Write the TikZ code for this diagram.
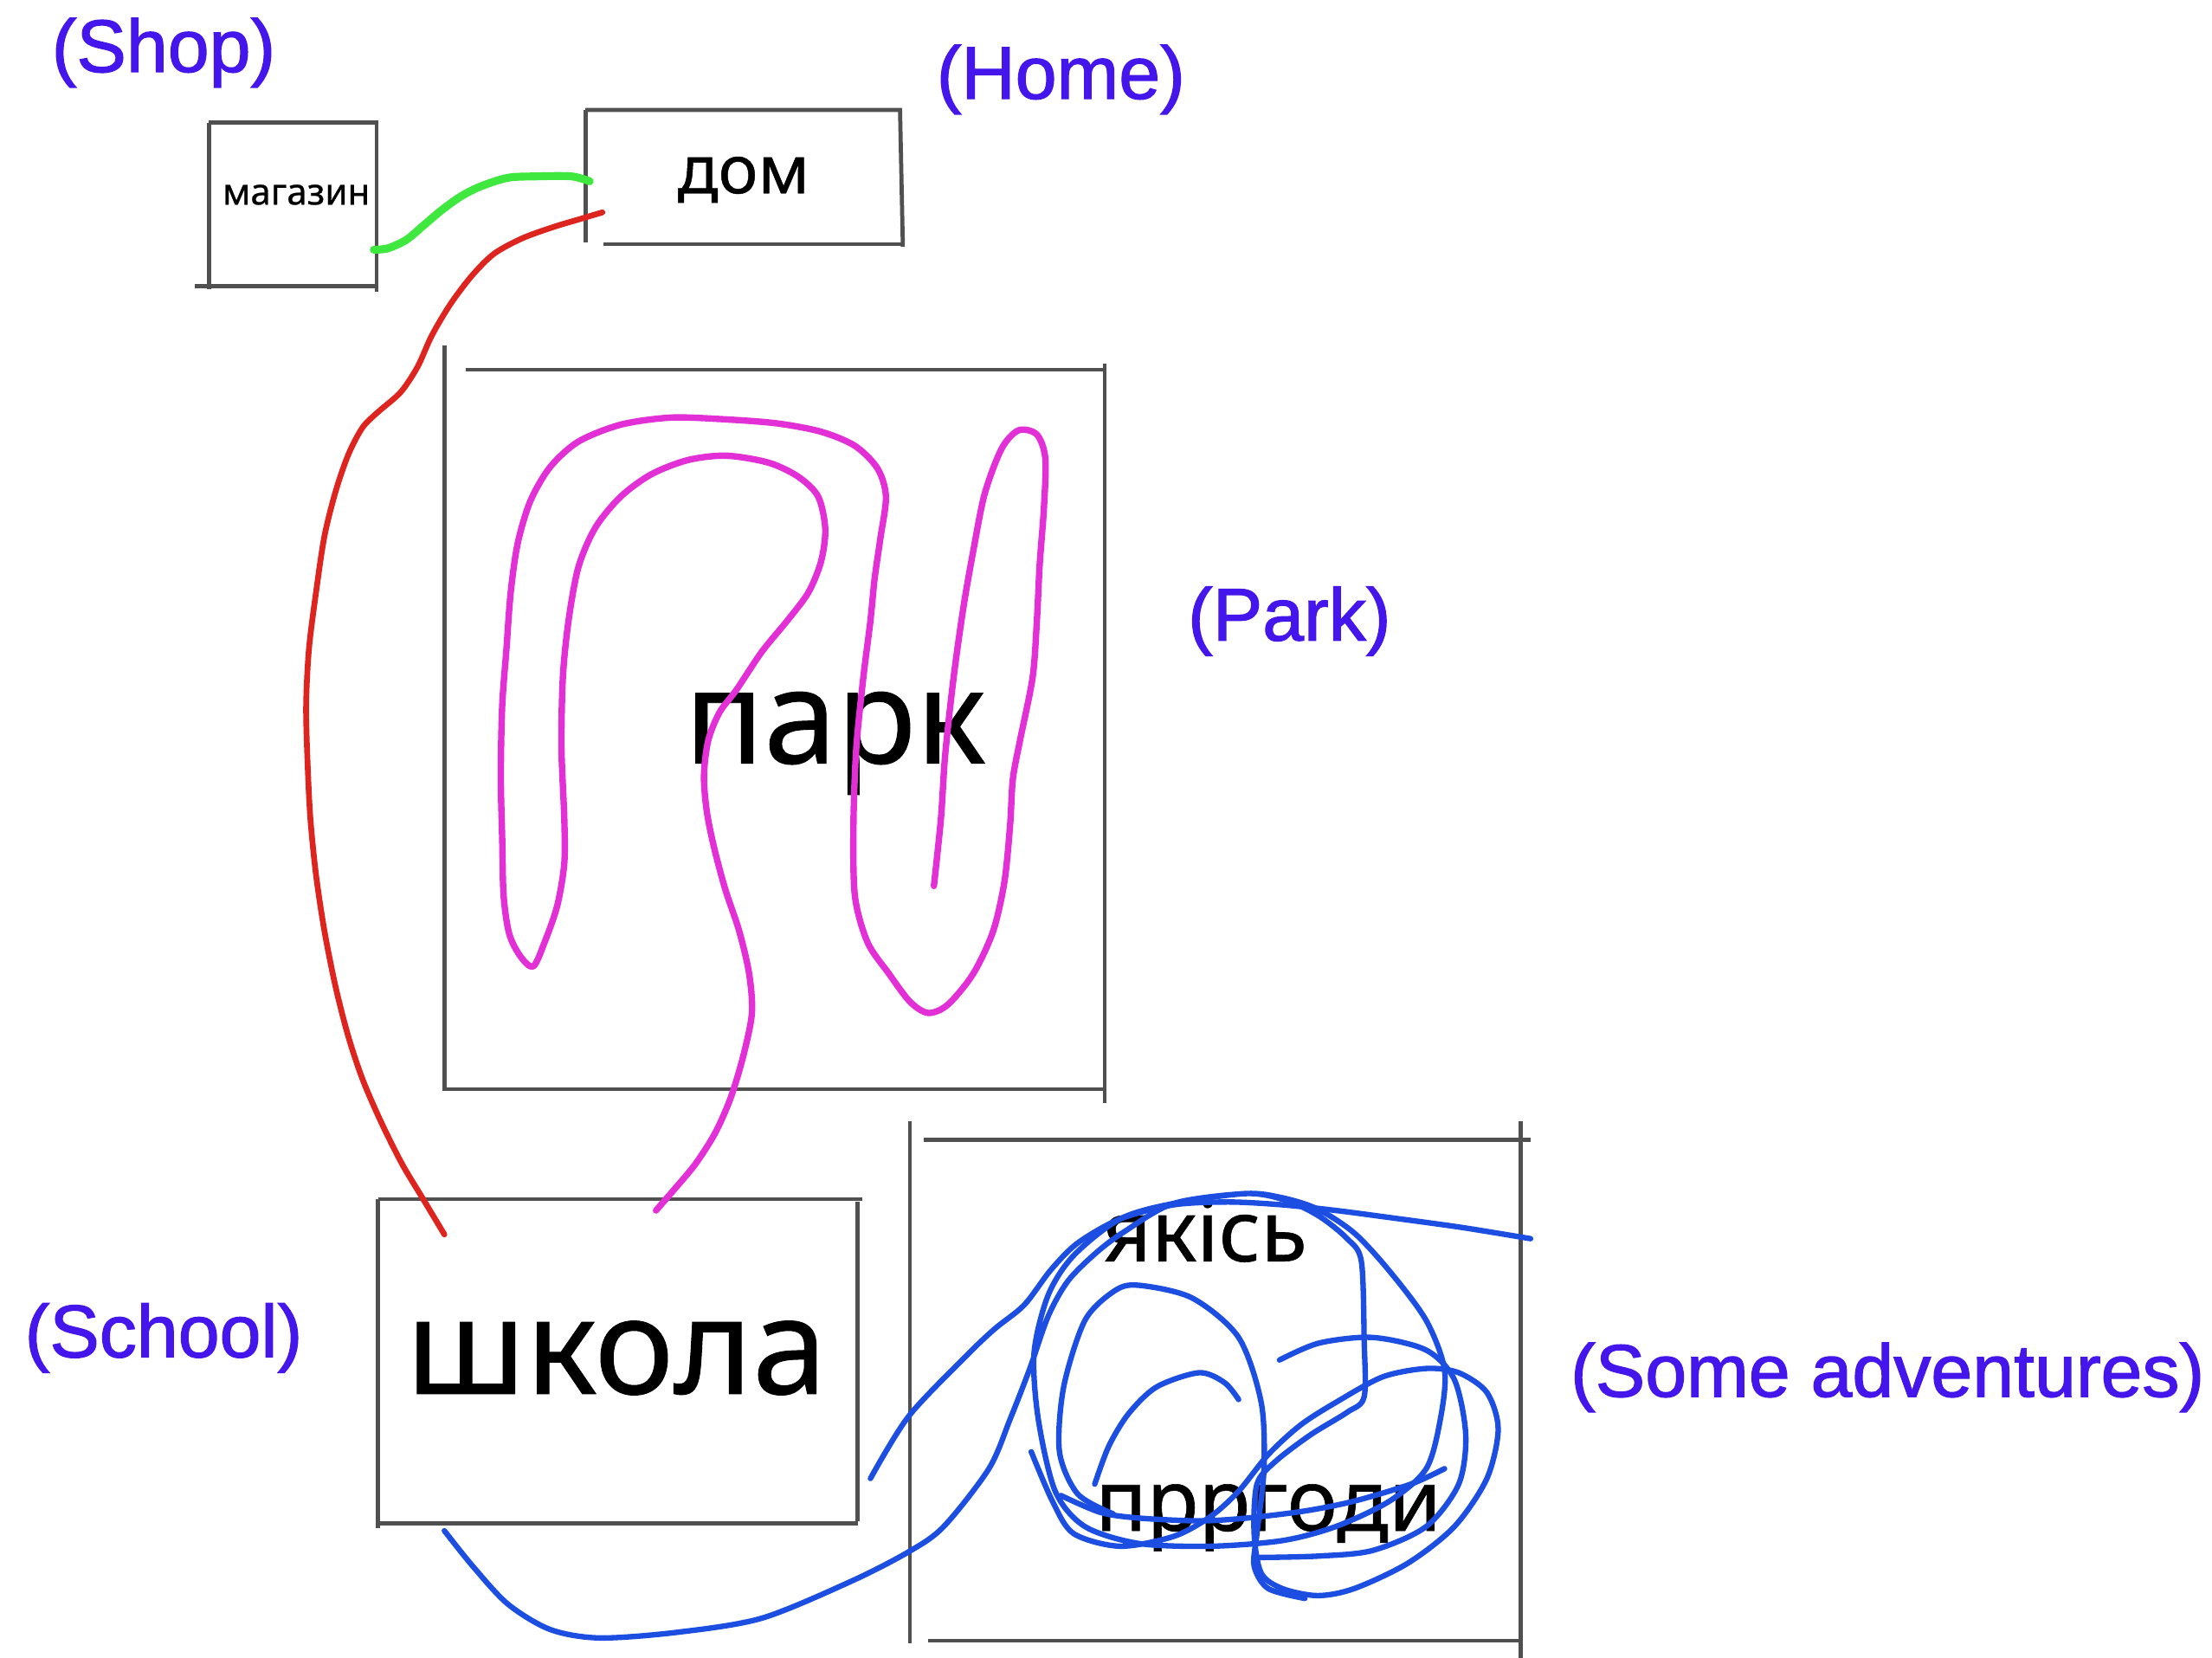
\documentclass[tikz,border=0pt]{standalone}
\usepackage{fontspec}
\setmainfont{Liberation Sans}
\newfontfamily\tagfont[FakeBold=1.4]{Liberation Sans}
\newfontfamily\cyrfont[FakeBold=0.6]{Noto Sans}
\usetikzlibrary{calc}

\definecolor{tagblue}{RGB}{69, 22, 235}
\definecolor{edgegray}{RGB}{80, 80, 80}
\definecolor{homered}{RGB}{222, 36, 30}
\definecolor{shopgreen}{RGB}{62, 232, 62}
\definecolor{parkpink}{RGB}{226, 48, 214}
\definecolor{advblue}{RGB}{28, 78, 226}
\newcommand{\pxu}{0.016295cm}

\begin{document}
\begin{tikzpicture}[x=\pxu, y=-\pxu,
  place/.style={inner sep=0pt, outer sep=0pt},
  side/.style={draw=edgegray, line width=1.35pt},
  word/.style={anchor=base, inner sep=0pt, text=black},
  tag/.style={anchor=base, inner sep=0pt, text=tagblue, font=\tagfont\fontsize{24.5}{28}\selectfont},
  pen/.style={line cap=round, line join=round}]

  \useasboundingbox (0,0) rectangle (1568,1175);

  % Boxes
  \node[place, minimum width=119*\pxu, minimum height=118*\pxu] (shop) at (207.5,146) {};
  \node[place, minimum width=223*\pxu, minimum height=95*\pxu] (home) at (526.5,125.5) {};
  \node[place, minimum width=468*\pxu, minimum height=510*\pxu] (park) at (549,517) {};
  \node[place, minimum width=340*\pxu, minimum height=230*\pxu] (school) at (438,965) {};
  \node[place, minimum width=433*\pxu, minimum height=355*\pxu] (adv) at (861.5,985.5) {};

  % Sketchy sides
  \draw[side] (shop.north west) -- (shop.north east) -- ($(shop.south east)+(0,2)$);
  \draw[side] (shop.north west) -- (shop.south west);
  \draw[side] ($(shop.south west)+(-10,-2)$) -- ($(shop.south east)+(0,-2)$);

  \draw[side] (home.north west) -- (home.north east) -- ($(home.south east)+(2,2)$);
  \draw[side] (home.north west) -- ($(home.south west)+(0,-1)$);
  \draw[side] ($(home.south west)+(13,0)$) -- ($(home.south east)+(2,0)$);

  \draw[side] ($(park.north west)+(0,-17)$) -- (park.south west) -- (park.south east);
  \draw[side] ($(park.north west)+(15,0)$) -- (park.north east);
  \draw[side] ($(park.north east)+(0,-4)$) -- ($(park.south east)+(0,10)$);

  \draw[side] (school.north west) -- ($(school.north east)+(3,0)$);
  \draw[side] (school.north west) -- ($(school.south west)+(0,3)$);
  \draw[side] ($(school.north east)+(0,2)$) -- ($(school.south east)+(0,-2)$);
  \draw[side] (school.south west) -- (school.south east);

  \draw[side] ($(adv.north west)+(0,-13)$) -- ($(adv.south west)+(0,2)$);
  \draw[side] ($(adv.north west)+(10,0)$) -- ($(adv.north east)+(7,0)$);
  \draw[side] ($(adv.north east)+(0,-13)$) -- ($(adv.south east)+(0,12)$);
  \draw[side] ($(adv.south west)+(13,0)$) -- (adv.south east);

  % Words in the boxes
  \node[word, font=\cyrfont\fontsize{12}{14}\selectfont] (shopword) at (210,145) {магазин};
  \node[word, font=\cyrfont\fontsize{22}{26}\selectfont] (homeword) at (527,137) {дом};
  \node[word, font=\cyrfont\fontsize{43}{50}\selectfont] (parkword) at (592,541) {парк};
  \node[word, font=\cyrfont\fontsize{44}{52}\selectfont] (schoolword) at (437,988) {школа};
  \node[word, font=\cyrfont\fontsize{28}{32}\selectfont] (advtop) at (854,894) {якісь};
  \node[word, font=\cyrfont\fontsize{28}{32}\selectfont] (advbottom) at (899,1085) {прргоди};

  % English tags
  \node[tag] (shoptag) at (116,51) {(Shop)};
  \node[tag] (hometag) at (752,70) {(Home)};
  \node[tag] (parktag) at (914,454) {(Park)};
  \node[tag] (schooltag) at (116,962) {(School)};
  \node[tag] (advtag) at (1338,990) {(Some adventures)};

  % Shop -- home
  \draw[pen, shopgreen, line width=2.6pt] plot[smooth] coordinates {
    ($(shop.east)+(-2,31)$) (275,176) (288,170) (300,160) (313,149) (327,139)
    (341,132) (360,126) (380,125) (405,125) ($(home.west)+(3,3)$)};

  % Home -- school
  \draw[pen, homered, line width=1.9pt] plot[smooth] coordinates {
    ($(home.west)+(12,25)$) (412,155) (392,161) (370,169) (350,180) (334,196)
    (319,216) (306,238) (296,260) (284,278) (268,292) (257,303) (247,322)
    (238,348) (230,380) (224,420) (219,460) (217,500) (218,540) (220,580)
    (224,620) (230,660) (238,700) (247,735) (257,765) (270,795) (285,825)
    (300,850) ($(school.north west)+(47,25)$)};

  % School -- park walk
  \coordinate (walkend) at (662,628);
  \draw[pen, parkpink, line width=2.1pt] plot[smooth] coordinates {
    ($(school.north)+(27,8)$) (478,843) (493,825) (507,803) (518,778) (527,748)
    (533,718) (531,690) (524,660) (514,630) (506,600) (501,575) (499,550)
    (502,525) (510,505) (522,489) (540,462) (558,440) (573,420) (582,398)
    (585,375) (580,352) (566,338) (545,328) (515,323) (488,326) (462,336)
    (440,352) (422,374) (410,402) (403,440) (399,480) (398,530) (400,580)
    (400,612) (395,642) (386,668) (378,685) (369,678) (361,662) (357,635)
    (356,595) (355,550) (356,500) (359,460) (362,420) (367,385) (376,355)
    (390,331) (410,313) (440,301) (475,296) (510,297) (550,300) (582,306)
    (606,316) (622,332) (628,352) (624,382) (620,410) (617,440) (612,480)
    (607,530) (605,583) (606,635) (615,668) (630,690) (645,710) (658,718)
    (672,712) (690,690) (704,660) (712,625) (716,585) (718,552) (723,525)
    (732,480) (735,440) (737,400) (740,360) (741,325) (735,308) (722,305)
    (710,318) (698,350) (690,390) (683,430) (676,480) (670,535) (667,580)
    (walkend)};

  % School -- adventures
  \coordinate (advend) at ($(adv.north east)+(7,70)$);
  \draw[pen, advblue, line width=1.8pt] plot[smooth] coordinates {
    ($(school.south east)+(9,-32)$) (644,1004) (685,961) (705,942) (726,925)
    (745,900) (764,881) (794,864) (832,854) (871,852) (909,854) (947,858)
    (985,863) (1036,870) (advend)};
  \draw[pen, advblue, line width=1.8pt] plot[smooth] coordinates {
    ($(school.south west)+(47,5)$) (335,1110) (360,1137) (390,1155) (425,1161)
    (480,1157) (540,1147) (603,1121) (644,1100) (669,1082) (701,1041)
    (716,1006) (730,970) (743,933) (757,908) (777,888) (797,873) (832,853)
    (883,846) (909,849) (934,857) (960,874) (985,901) (1011,936) (1024,971)
    (1021,1006) (1011,1041) (985,1064) (947,1082) (909,1092) (858,1096)
    (807,1094) (769,1082) (748,1057) (736,1006) (733,959) (743,918) (761,890)
    (794,864) (832,853) (884,846) (912,851) (935,862) (955,878) (965,894)
    (967,950) (967,990) (955,1001) (929,1017) (904,1036) (891,1052) (889,1087)
    (894,1115) (909,1126) (934,1131) (960,1126) (998,1108) (1031,1082)
    (1054,1048) (1062,1013) (1054,987) (1034,973) (1011,970) (980,976)
    (947,994) (922,1010) (899,1031) (878,1057) (858,1075) (832,1089)
    (794,1096) (761,1087) (746,1064) (731,1029)};
  \draw[pen, advblue, line width=1.8pt] plot[smooth] coordinates {
    (789,1073) (764,1059) (751,1029) (754,983) (769,936) (790,915) (807,911)
    (845,920) (878,948) (894,994) (896,1041) (891,1087) (889,1110) (899,1126)
    (925,1133)};
  \draw[pen, advblue, line width=1.8pt] plot[smooth] coordinates {
    (776,1052) (786,1025) (800,1002) (820,983) (850,973) (868,980) (878,992)};
  \draw[pen, advblue, line width=1.8pt] plot[smooth] coordinates {
    (907,964) (935,952) (973,948) (1011,957) (1031,978) (1039,1017)
    (1034,1052) (1011,1082) (973,1099) (934,1103) (890,1104)};
  \draw[pen, advblue, line width=1.8pt] plot[smooth] coordinates {
    (752,1060) (780,1072) (807,1076) (850,1078) (884,1076) (925,1071)
    (960,1064) (1000,1052) (1024,1041)};
\end{tikzpicture}
\end{document}
